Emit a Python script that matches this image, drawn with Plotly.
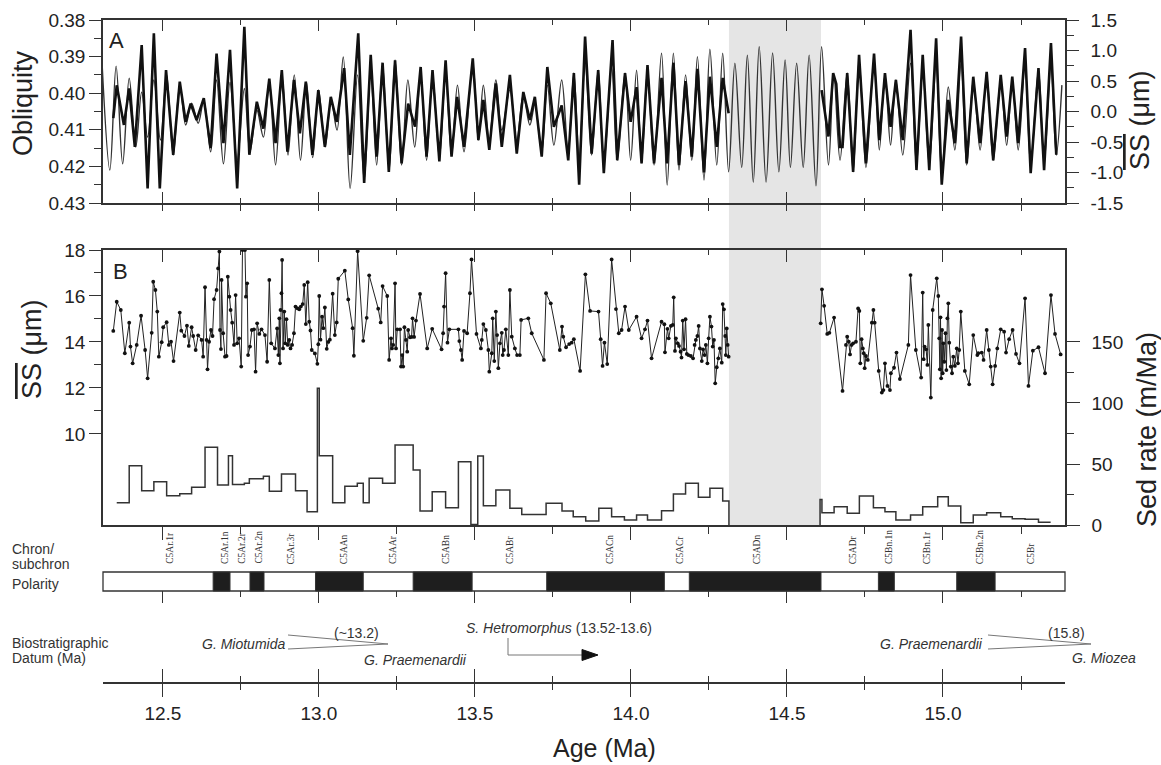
import plotly.graph_objects as go

# ---------------- DATA ----------------
# Panel A: orbital obliquity (thin line, left axis, reversed)
obl_age = [12.305, 12.330, 12.350, 12.371, 12.392, 12.413, 12.432, 12.451, 12.471, 12.492, 12.512, 12.533,
           12.554, 12.573, 12.592, 12.613, 12.631, 12.653, 12.672, 12.694, 12.715, 12.738, 12.761, 12.779,
           12.801, 12.822, 12.841, 12.861, 12.882, 12.901, 12.921, 12.941, 12.960, 12.980, 12.999, 13.020,
           13.039, 13.058, 13.078, 13.100, 13.124, 13.145, 13.166, 13.185, 13.204, 13.225, 13.244, 13.265,
           13.285, 13.307, 13.326, 13.345, 13.364, 13.386, 13.406, 13.425, 13.444, 13.465, 13.493, 13.511,
           13.527, 13.546, 13.567, 13.586, 13.612, 13.634, 13.655, 13.676, 13.692, 13.714, 13.732, 13.753,
           13.778, 13.799, 13.817, 13.834, 13.853, 13.874, 13.895, 13.913, 13.938, 13.956, 13.981, 13.999,
           14.018, 14.034, 14.053, 14.074, 14.098, 14.116, 14.136, 14.154, 14.175, 14.195, 14.213, 14.234,
           14.253, 14.275, 14.294, 14.313, 14.333, 14.355, 14.373, 14.392, 14.411, 14.433, 14.454, 14.474,
           14.494, 14.511, 14.531, 14.552, 14.571, 14.593, 14.611, 14.633, 14.650, 14.670, 14.693, 14.712,
           14.731, 14.753, 14.779, 14.796, 14.814, 14.832, 14.849, 14.871, 14.896, 14.915, 14.935, 14.956,
           14.978, 14.996, 15.017, 15.038, 15.058, 15.076, 15.097, 15.119, 15.140, 15.161, 15.185, 15.204,
           15.222, 15.241, 15.263, 15.281, 15.306, 15.324, 15.346, 15.363, 15.381]
obl_val = [0.3918, 0.4210, 0.3926, 0.4193, 0.3959, 0.4147, 0.3997, 0.4120, 0.3964, 0.4128, 0.3950, 0.4169,
           0.3978, 0.4087, 0.4027, 0.4082, 0.4019, 0.4160, 0.3964, 0.4193, 0.3970, 0.4183, 0.3987, 0.4160,
           0.4046, 0.4120, 0.3964, 0.4196, 0.3956, 0.4169, 0.3950, 0.4183, 0.3970, 0.4176, 0.3991, 0.4147,
           0.4019, 0.4101, 0.3901, 0.4260, 0.3950, 0.4237, 0.3950, 0.4196, 0.3923, 0.4210, 0.3909, 0.4196,
           0.3964, 0.4147, 0.3950, 0.4183, 0.3950, 0.4176, 0.3950, 0.4169, 0.3978, 0.4160, 0.3918, 0.4128,
           0.3978, 0.4128, 0.3964, 0.4101, 0.3991, 0.4128, 0.4005, 0.4087, 0.4032, 0.4160, 0.3978, 0.4142,
           0.3964, 0.4160, 0.3945, 0.4176, 0.3920, 0.4169, 0.3937, 0.4196, 0.3930, 0.4183, 0.3945, 0.4183,
           0.3937, 0.4190, 0.3937, 0.4196, 0.3891, 0.4251, 0.3891, 0.4210, 0.3950, 0.4183, 0.3900, 0.4237,
           0.3880, 0.4196, 0.3891, 0.4215, 0.3918, 0.4203, 0.3896, 0.4243, 0.3873, 0.4243, 0.3890, 0.4215,
           0.3909, 0.4203, 0.3918, 0.4203, 0.3896, 0.4253, 0.3873, 0.4196, 0.3950, 0.4183, 0.3945, 0.4215,
           0.3909, 0.4203, 0.3909, 0.4155, 0.3950, 0.4142, 0.3964, 0.4169, 0.3918, 0.4196, 0.3937, 0.4196,
           0.3923, 0.4223, 0.3983, 0.4155, 0.3918, 0.4196, 0.3964, 0.4155, 0.3950, 0.4183, 0.3964, 0.4142,
           0.3964, 0.4155, 0.3923, 0.4196, 0.3937, 0.4190, 0.3928, 0.4169, 0.3978]

# Panel A: filtered mean sortable silt (thick line, right axis)
ssf_age = [12.341, 12.352, 12.375, 12.392, 12.410, 12.432, 12.451, 12.471, 12.490, 12.510, 12.533, 12.554,
           12.573, 12.589, 12.608, 12.631, 12.653, 12.672, 12.694, 12.715, 12.738, 12.761, 12.777, 12.801,
           12.822, 12.841, 12.861, 12.881, 12.899, 12.920, 12.939, 12.958, 12.979, 12.998, 13.019, 13.038,
           13.057, 13.081, 13.099, 13.126, 13.145, 13.166, 13.185, 13.204, 13.224, 13.244, 13.265, 13.286,
           13.308, 13.326, 13.345, 13.364, 13.386, 13.406, 13.425, 13.443, 13.465, 13.493, 13.511, 13.527,
           13.546, 13.567, 13.586, 13.612, 13.634, 13.655, 13.676, 13.692, 13.714, 13.732, 13.753, 13.778,
           13.799, 13.817, 13.834, 13.853, 13.874, 13.895, 13.913, 13.941, 13.956, 13.981, 13.999, 14.018,
           14.034, 14.053, 14.074, 14.098, 14.116, 14.136, 14.154, 14.175, 14.195, 14.213, 14.234, 14.253,
           14.275, 14.294, 14.313, None,
           14.611, 14.633, 14.648, 14.658, 14.670, 14.678, 14.693, 14.712, 14.731, 14.753, 14.779, 14.796,
           14.814, 14.832, 14.849, 14.871, 14.896, 14.915, 14.935, 14.956, 14.978, 14.996, 15.017, 15.038,
           15.058, 15.076, 15.097, 15.119, 15.140, 15.161, 15.185, 15.204, 15.222, 15.241, 15.263, 15.281,
           15.306, 15.324, 15.346, 15.363]
ssf_val = [-0.11, 0.43, -0.22, 0.38, -0.58, 1.09, -1.26, 1.28, -1.26, 0.68, -0.71, 0.49,
           -0.17, 0.13, -0.14, 0.22, -0.60, 0.95, -0.52, 1.01, -1.26, 1.39, -0.71, 0.16,
           -0.28, 0.54, -0.52, 0.68, -0.66, 0.52, -0.36, 0.49, -0.71, 0.35, -0.58, 0.24,
           -0.17, 0.71, -0.71, 1.28, -1.17, 0.93, -0.74, 0.80, -0.99, 0.84, -0.85, 0.13,
           -0.25, 0.73, -0.74, 0.68, -0.82, 0.84, -0.74, 0.24, -0.58, 0.87, -0.47, 0.19,
           -0.63, 0.46, -0.58, 0.60, -0.69, 0.32, -0.14, 0.24, -0.74, 0.73, -0.25, 0.10,
           -0.80, 0.63, -1.20, 1.23, -0.69, 0.68, -1.01, 1.17, -0.80, 0.63, -0.17, 0.40,
           -0.85, 0.76, -0.85, 0.55, -0.85, 0.80, -0.88, 0.50, -0.74, 0.70, -1.00, 0.57,
           -0.58, 0.55, -0.03, None,
           0.35, -0.41, 0.63, 0.45, -0.58, -0.58, 0.63, -0.99, 0.93, -0.85, 0.95, -0.47,
           0.63, -0.25, 0.52, -0.47, 1.34, -0.96, 0.93, -0.96, 1.20, -1.20, 0.19, -0.52,
           1.23, -0.85, 0.57, -0.52, 0.65, -0.80, 0.60, -0.41, 0.57, -0.52, 1.04, -1.01,
           0.71, -0.96, 1.12, -0.71]

# Panel B: mean sortable silt (um, left axis)
ss_age = [12.341, 12.352, 12.365, 12.378, 12.392, 12.396, 12.403, 12.416, 12.430, 12.443, 12.451, 12.464,
          12.469, 12.476, 12.482, 12.487, 12.496, 12.501, 12.512, 12.519, 12.526, 12.534, 12.554, 12.559,
          12.569, 12.577, 12.583, 12.592, 12.597, 12.605, 12.613, 12.624, 12.629, 12.635, 12.640, 12.643,
          12.648, 12.654, 12.659, 12.664, 12.672, 12.677, 12.681, 12.683, 12.686, 12.688, 12.693, 12.699,
          12.704, 12.708, 12.713, 12.717, 12.722, 12.728, 12.733, 12.738, 12.744, 12.751, 12.755, 12.763,
          12.766, 12.770, 12.773, 12.779, 12.785, 12.792, 12.797, 12.802, 12.809, 12.816, 12.827, 12.834,
          12.841, 12.847, 12.859, 12.866, 12.870, 12.873, 12.875, 12.877, 12.880, 12.882, 12.885, 12.889,
          12.892, 12.896, 12.900, 12.905, 12.909, 12.914, 12.920, 12.925, 12.932, 12.937, 12.942, 12.948,
          12.953, 12.958, 12.964, 12.969, 12.973, 12.977, 12.987, 12.995, 12.998, 13.001, 13.005, 13.010,
          13.014, 13.019, 13.025, 13.030, 13.035, 13.044, 13.051, 13.057, 13.062, 13.083, 13.094, 13.108,
          13.112, 13.124, 13.142, 13.153, 13.161, 13.190, 13.198, 13.204, 13.219, 13.225, 13.231, 13.234,
          13.238, 13.244, 13.247, 13.251, 13.260, 13.263, 13.267, 13.270, 13.274, 13.279, 13.283, 13.286,
          13.292, 13.297, 13.300, 13.305, 13.311, 13.324, 13.347, 13.363, 13.393, 13.398, 13.401, 13.406,
          13.412, 13.418, 13.447, 13.450, 13.455, 13.459, 13.465, 13.475, 13.484, 13.489, 13.505, 13.519,
          13.522, 13.527, 13.535, 13.543, 13.546, 13.554, 13.557, 13.562, 13.567, 13.571, 13.575, 13.580,
          13.586, 13.589, 13.593, 13.599, 13.607, 13.612, 13.618, 13.628, 13.635, 13.644, 13.648, 13.671,
          13.682, 13.721, 13.728, 13.743, 13.772, 13.779, 13.783, 13.792, 13.802, 13.810, 13.817, 13.837,
          13.854, 13.869, 13.896, 13.903, 13.909, 13.915, 13.924, 13.938, 13.952, 13.961, 13.970, 13.981,
          13.993, 14.018, 14.034, 14.045, 14.053, 14.066, 14.098, 14.107, 14.109, 14.117, 14.121, 14.128,
          14.134, 14.137, 14.141, 14.144, 14.150, 14.154, 14.159, 14.162, 14.166, 14.170, 14.175, 14.179,
          14.184, 14.192, 14.199, 14.204, 14.208, 14.213, 14.217, 14.221, 14.227, 14.231, 14.236, 14.240,
          14.245, 14.249, 14.253, 14.258, 14.262, 14.266, 14.270, 14.275, 14.280, 14.285, 14.291, 14.294,
          14.298, 14.302, 14.304, 14.307, 14.310, 14.313, None,
          14.608, 14.612, 14.619, 14.629, 14.636, 14.651, 14.678, 14.689, 14.693, 14.698, 14.702, 14.707,
          14.712, 14.721, 14.728, 14.732, 14.735, 14.739, 14.743, 14.746, 14.749, 14.753, 14.759, 14.772,
          14.777, 14.781, 14.794, 14.804, 14.809, 14.814, 14.822, 14.830, 14.833, 14.843, 14.851, 14.862,
          14.889, 14.896, 14.913, 14.930, 14.935, 14.938, 14.941, 14.946, 14.950, 14.953, 14.961, 14.967,
          14.980, 14.985, 14.988, 14.990, 14.992, 14.994, 14.997, 14.999, 15.001, 15.004, 15.008, 15.011,
          15.014, 15.017, 15.020, 15.025, 15.029, 15.033, 15.038, 15.044, 15.048, 15.052, 15.057, 15.070,
          15.084, 15.097, 15.110, 15.113, 15.124, 15.130, 15.140, 15.147, 15.153, 15.159, 15.167, 15.174,
          15.185, 15.196, 15.202, 15.212, 15.223, 15.234, 15.245, 15.263, 15.274, 15.288, 15.306, 15.327,
          15.346, 15.359, 15.377]
ss_val = [14.48, 15.75, 15.39, 13.51, 14.84, 13.80, 13.07, 13.87, 15.14, 13.65, 12.42, 14.40,
          16.62, 16.26, 15.32, 13.36, 13.99, 14.64, 14.86, 13.87, 14.01, 13.17, 15.28, 14.49,
          14.26, 14.71, 13.83, 14.64, 14.26, 13.65, 14.29, 14.09, 13.36, 16.38, 14.09, 12.81,
          14.01, 14.52, 14.26, 15.86, 16.26, 17.20, 17.93, 14.52, 13.69, 16.70, 14.38, 13.36,
          13.39, 16.84, 15.97, 15.39, 14.84, 13.87, 16.04, 13.94, 14.16, 12.93, 18.00, 18.00,
          15.97, 16.55, 13.43, 13.80, 14.52, 14.55, 12.71, 14.81, 14.35, 14.55, 14.30, 13.14,
          16.70, 13.94, 13.72, 14.59, 13.43, 15.03, 13.07, 15.39, 16.12, 17.57, 13.72, 15.32,
          13.94, 14.99, 13.87, 14.09, 13.72, 13.87, 14.38, 15.54, 15.46, 15.42, 15.54, 15.65,
          16.48, 14.78, 16.60, 14.88, 14.50, 13.65, 13.50, 13.05, 13.90, 16.00, 14.10, 15.10,
          14.60, 15.50, 13.70, 14.00, 14.10, 16.10, 14.30, 14.85, 16.75, 17.10, 15.85, 14.60,
          13.40, 17.95, 14.05, 15.05, 16.90, 15.45, 14.85, 16.43, 16.00, 13.22, 14.16, 13.72,
          13.87, 16.55, 13.72, 14.55, 14.55, 12.93, 13.43, 12.93, 14.64, 14.09, 13.58, 14.52,
          14.20, 14.22, 15.03, 14.22, 14.93, 16.09, 13.72, 14.57, 13.68, 14.38, 15.54, 16.99,
          13.97, 14.55, 14.55, 14.04, 13.65, 13.22, 14.48, 14.38, 16.12, 17.59, 14.35, 13.72,
          14.09, 14.78, 14.52, 13.65, 12.71, 13.51, 15.03, 13.17, 15.32, 14.30, 12.86, 13.94,
          14.40, 13.43, 13.65, 14.55, 13.43, 16.26, 14.23, 13.72, 13.43, 13.43, 14.96, 15.03,
          14.38, 13.22, 16.12, 15.68, 13.65, 14.67, 14.23, 13.77, 13.91, 13.97, 14.12, 12.74,
          16.94, 15.35, 15.32, 14.12, 12.96, 13.97, 13.04, 17.59, 15.43, 14.38, 14.52, 15.54,
          14.52, 15.10, 14.16, 14.55, 14.93, 13.29, 14.88, 14.77, 13.55, 14.57, 14.16, 14.70,
          14.74, 15.94, 13.61, 14.16, 13.94, 13.83, 13.58, 13.32, 14.93, 13.68, 14.99, 13.48,
          13.43, 13.39, 13.29, 13.87, 14.09, 14.26, 14.70, 13.72, 13.17, 13.68, 13.43, 13.87,
          13.07, 14.16, 15.10, 14.67, 13.80, 14.09, 12.20, 12.90, 13.29, 13.72, 13.10, 15.65,
          15.42, 14.26, 13.43, 14.59, 13.87, 13.36, None,
          14.81, 16.29, 15.57, 14.35, 14.40, 15.06, 11.87, 13.87, 14.23, 14.01, 13.46, 13.87,
          13.94, 14.01, 15.46, 15.35, 13.07, 14.12, 13.72, 13.51, 12.86, 13.39, 13.22, 14.84,
          15.39, 14.84, 12.74, 11.80, 11.91, 13.07, 12.09, 11.91, 12.64, 12.88, 13.54, 12.39,
          13.87, 16.91, 13.65, 12.45, 16.15, 13.25, 13.80, 13.68, 13.00, 14.74, 11.58, 15.39,
          16.77, 16.00, 14.16, 12.81, 15.07, 12.42, 14.52, 12.64, 13.94, 13.14, 14.38, 12.78,
          15.03, 15.68, 13.97, 12.93, 12.64, 13.36, 12.96, 13.72, 13.07, 13.65, 15.32, 12.74,
          12.16, 14.30, 13.43, 13.51, 13.54, 13.22, 14.52, 13.65, 12.93, 12.16, 12.96, 13.72,
          14.55, 14.45, 13.54, 14.12, 14.52, 13.48, 13.07, 15.90, 12.09, 13.62, 13.77, 12.64,
          16.04, 14.35, 13.46]

# Panel B: sedimentation rate (m/Ma, right axis), step starts
sr_age = [12.352, 12.392, 12.432, 12.471, 12.512, 12.554, 12.592, 12.635, 12.675, 12.710, 12.723, 12.761,
          12.777, 12.822, 12.841, 12.880, 12.925, 12.962, 12.995, 13.001, 13.044, 13.083, 13.123, 13.142,
          13.161, 13.204, 13.244, 13.302, 13.324, 13.363, 13.406, 13.447, 13.487, 13.509, 13.527, 13.567,
          13.612, 13.650, 13.728, 13.779, 13.815, 13.855, 13.897, 13.938, 13.979, 14.018, 14.053, 14.098,
          14.136, 14.175, 14.216, 14.253, 14.294, 14.314, None,
          14.606, 14.606, 14.612, 14.651, 14.693, 14.732, 14.777, 14.814, 14.849, 14.896, 14.935, 14.983,
          15.017, 15.057, 15.097, 15.140, 15.185, 15.222, 15.263, 15.306, 15.345]
sr_val = [18.3, 48.6, 28.1, 35.5, 24.0, 25.7, 30.9, 63.7, 32.8, 56.8, 33.1, 34.2,
          38.0, 39.9, 27.6, 41.8, 28.1, 10.9, 112.0, 56.8, 18.3, 31.7, 34.2, 18.3,
          38.3, 34.2, 65.6, 45.1, 11.5, 27.3, 14.2, 51.9, 0.5, 56.6, 15.8, 28.7,
          13.7, 8.7, 17.8, 11.5, 6.8, 3.3, 13.7, 6.8, 4.1, 8.2, 4.1, 11.7,
          25.4, 34.2, 22.7, 30.1, 19.7, 0.0, None,
          0.0, 21.0, 10.1, 15.0, 9.6, 23.8, 14.2, 10.9, 4.1, 8.2, 15.0, 23.2,
          15.6, 1.9, 8.2, 10.1, 6.8, 5.2, 4.7, 2.2, 2.2]

# Data gap (shaded)
gap_start, gap_end = 14.314, 14.609

# Magnetic polarity: normal (black) intervals
normal_start = [12.661, 12.779, 12.989, 13.302, 13.730, 14.187, 14.793, 15.044]
normal_end = [12.715, 12.824, 13.142, 13.491, 14.107, 14.609, 14.844, 15.167]

chron_names = ["C5Ar.1r", "C5Ar.1n", "C5Ar.2r", "C5Ar.2n", "C5Ar.3r", "C5AAn", "C5AAr", "C5ABn",
               "C5ABr", "C5ACn", "C5ACr", "C5ADn", "C5ADr", "C5Bn.1n", "C5Bn.1r", "C5Bn.2n", "C5Br"]
chron_age = [12.522, 12.697, 12.753, 12.805, 12.912, 13.081, 13.236, 13.406,
             13.612, 13.931, 14.157, 14.405, 14.711, 14.827, 14.948, 15.119, 15.281]

obl_ticks = [0.38, 0.39, 0.40, 0.41, 0.42, 0.43]
ssA_ticks = [-1.5, -1.0, -0.5, 0.0, 0.5, 1.0, 1.5]
ssA_text = ["-1.5", "-1.0", "-0.5", "0.0", "0.5", "1.0", "1.5"]
ssB_ticks = [10, 12, 14, 16, 18]
sr_ticks = [0, 50, 100, 150]
age_ticks = [12.5, 13.0, 13.5, 14.0, 14.5, 15.0]

# ---------------- STYLE / LAYOUT ----------------
W, H = 1161, 765
L, R = 103, 96
PW = W - L - R
FONT = "Liberation Sans, Arial, sans-serif"
LC = "#333333"
XR = [12.308, 15.391]


def px(x):
    return (x - L) / PW


def py(y):
    return 1 - y / H


fig = go.Figure()
fig.add_trace(go.Scatter(x=obl_age, y=obl_val, xaxis="x", yaxis="y", mode="lines",
                         line=dict(color="#333333", width=1.4, shape="spline", smoothing=1.0),
                         hoverinfo="skip"))
fig.add_trace(go.Scatter(x=ssf_age, y=ssf_val, xaxis="x", yaxis="y3", mode="lines",
                         line=dict(color="#111111", width=2.6), connectgaps=False, hoverinfo="skip"))
fig.add_trace(go.Scatter(x=ss_age, y=ss_val, xaxis="x2", yaxis="y2", mode="lines+markers",
                         line=dict(color="#222222", width=1), marker=dict(size=3.8, color="#111111"),
                         connectgaps=False, hoverinfo="skip"))
fig.add_trace(go.Scatter(x=sr_age, y=sr_val, xaxis="x2", yaxis="y4", mode="lines",
                         line=dict(color="#333333", width=1.5, shape="hv"), connectgaps=False,
                         hoverinfo="skip"))
for xa, ya in [("x3", "y5"), ("x4", "y5"), ("x5", "y5"), ("x6", "y2"), ("x7", "y")]:
    fig.add_trace(go.Scatter(x=[None], y=[None], xaxis=xa, yaxis=ya, showlegend=False,
                             hoverinfo="skip"))

tickfont = dict(family=FONT, size=19, color="#222222")
base_x = dict(range=XR, showgrid=False, zeroline=False, tickcolor=LC, tickwidth=1.3,
              tick0=12.5, dtick=0.5, showticklabels=False, automargin=False)

dA = [py(203), py(20)]
dB = [py(525), py(250)]

fig.update_layout(
    width=W, height=H, autosize=False,
    margin=dict(l=L, r=R, t=0, b=0, pad=0),
    paper_bgcolor="white", plot_bgcolor="rgba(0,0,0,0)",
    showlegend=False,
    font=dict(family=FONT, color="#222222"),
    xaxis=dict(base_x, domain=[0, 1], anchor="y", showline=True, linecolor=LC, linewidth=1.5,
               mirror="ticks", ticks="inside", ticklen=11,
               minor=dict(dtick=0.25, ticks="inside", ticklen=5, tickcolor=LC, tickwidth=1.3)),
    xaxis7=dict(base_x, overlaying="x", anchor="y", side="bottom", showline=False,
                ticks="outside", ticklen=7,
                minor=dict(dtick=0.25, ticks="outside", ticklen=7, tickcolor=LC, tickwidth=1.3)),
    xaxis2=dict(base_x, domain=[0, 1], anchor="y2", showline=True, linecolor=LC, linewidth=1.5,
                mirror=True, ticks="outside", ticklen=13,
                minor=dict(dtick=0.25, ticks="outside", ticklen=7, tickcolor=LC, tickwidth=1.3)),
    xaxis6=dict(base_x, overlaying="x2", anchor="y2", side="top", showline=False,
                ticks="inside", ticklen=12,
                minor=dict(dtick=0.25, ticks="inside", ticklen=5, tickcolor=LC, tickwidth=1.3)),
    xaxis3=dict(base_x, domain=[0, 1], anchor="y5", side="bottom", showline=True, linecolor=LC,
                linewidth=1.5, ticks="outside", ticklen=13, showticklabels=True,
                tickmode="array", tickvals=age_ticks, ticktext=[f"{v:.1f}" for v in age_ticks],
                tickfont=tickfont,
                minor=dict(dtick=0.25, tick0=12.5, ticks="outside", ticklen=6, tickcolor=LC,
                           tickwidth=1.3)),
    xaxis5=dict(base_x, overlaying="x3", anchor="y5", side="bottom", showline=False,
                ticks="inside", ticklen=13,
                minor=dict(dtick=0.25, ticks="inside", ticklen=6, tickcolor=LC, tickwidth=1.3)),
    xaxis4=dict(base_x, overlaying="x3", anchor="y5", side="top", showline=False,
                ticks="inside", ticklen=12,
                minor=dict(dtick=0.25, ticks="inside", ticklen=6, tickcolor=LC, tickwidth=1.3)),
    yaxis=dict(domain=dA, anchor="x", range=[0.43, 0.38], showgrid=False, zeroline=False,
               showline=True, linecolor=LC, linewidth=1.5, ticks="outside", ticklen=12,
               tickcolor=LC, tickwidth=1.3, tickmode="array", tickvals=obl_ticks,
               ticktext=[f"{v:.2f}" for v in obl_ticks], tickfont=tickfont, automargin=False,
               minor=dict(dtick=0.005, tick0=0.38, ticks="outside", ticklen=7, tickcolor=LC,
                          tickwidth=1.3)),
    yaxis3=dict(overlaying="y", anchor="x", side="right", range=[-1.5, 1.5], showgrid=False,
                zeroline=False, showline=True, linecolor=LC, linewidth=1.5, ticks="outside",
                ticklen=12, tickcolor=LC, tickwidth=1.3, tickmode="array", tickvals=ssA_ticks,
                ticktext=ssA_text, tickfont=tickfont, ticklabelstandoff=8, automargin=False,
                minor=dict(dtick=0.25, tick0=-1.5, ticks="outside", ticklen=7, tickcolor=LC,
                           tickwidth=1.3)),
    yaxis2=dict(domain=dB, anchor="x2", range=[6.04, 18.0], showgrid=False, zeroline=False,
                showline=True, linecolor=LC, linewidth=1.5, ticks="outside", ticklen=12,
                tickcolor=LC, tickwidth=1.3, tickmode="array", tickvals=ssB_ticks,
                ticktext=[str(v) for v in ssB_ticks], tickfont=tickfont, automargin=False,
                minor=dict(tickmode="array", tickvals=[11, 13, 15, 17], ticks="outside",
                           ticklen=7, tickcolor=LC, tickwidth=1.3)),
    yaxis4=dict(overlaying="y2", anchor="x2", side="right", range=[0, 225.4], showgrid=False,
                zeroline=False, showline=True, linecolor=LC, linewidth=1.5, ticks="outside",
                ticklen=13, tickcolor=LC, tickwidth=1.3, tickmode="array", tickvals=sr_ticks,
                ticktext=[str(v) for v in sr_ticks], tickfont=tickfont, ticklabelstandoff=8,
                automargin=False,
                minor=dict(tickmode="array", tickvals=[25, 75, 125], ticks="outside", ticklen=7,
                           tickcolor=LC, tickwidth=1.3)),
    yaxis5=dict(domain=[py(682), py(591)], anchor="x3", range=[0, 1], visible=False),
)

shapes = []
# shaded data gap spanning both panels
shapes.append(dict(type="rect", xref="x", yref="paper", x0=gap_start, x1=gap_end,
                   y0=py(525), y1=py(20), fillcolor="#e5e5e5", line=dict(width=0), layer="below"))
# polarity bar
pb0, pb1 = py(591), py(572)
shapes.append(dict(type="rect", xref="paper", yref="paper", x0=0, x1=1, y0=pb0, y1=pb1,
                   fillcolor="white", line=dict(color=LC, width=1.3)))
for s, e in zip(normal_start, normal_end):
    shapes.append(dict(type="rect", xref="x3", yref="paper", x0=s, x1=e, y0=pb0, y1=pb1,
                       fillcolor="#1e1e1e", line=dict(color=LC, width=1)))
# biostratigraphic wedges and arrow (decoration)
GL = dict(color="#777777", width=1)
shapes += [
    dict(type="line", xref="paper", yref="paper", x0=px(288), y0=py(635), x1=px(388), y1=py(644), line=GL),
    dict(type="line", xref="paper", yref="paper", x0=px(288), y0=py(649), x1=px(388), y1=py(644), line=GL),
    dict(type="line", xref="paper", yref="paper", x0=px(988), y0=py(635), x1=px(1091), y1=py(644), line=GL),
    dict(type="line", xref="paper", yref="paper", x0=px(988), y0=py(649), x1=px(1091), y1=py(644), line=GL),
    dict(type="line", xref="paper", yref="paper", x0=px(508), y0=py(638), x1=px(508), y1=py(655), line=GL),
    dict(type="line", xref="paper", yref="paper", x0=px(508), y0=py(655), x1=px(585), y1=py(655), line=GL),
    dict(type="path", xref="paper", yref="paper",
         path=f"M {px(598)},{py(655)} L {px(582)},{py(649.5)} L {px(582)},{py(660.5)} Z",
         fillcolor="#111111", line=dict(color="#111111", width=1)),
]
fig.update_layout(shapes=shapes)

ann = []
OV = '<span style="text-decoration:overline">SS</span>'
TF = dict(family=FONT, size=27, color="#222222")
C = dict(xref="paper", yref="paper", showarrow=False, xanchor="center", yanchor="middle")
ann.append(dict(C, text="Obliquity", x=px(23), y=py(103), textangle=-90, font=TF))
ann.append(dict(C, text=OV + " (μm)", x=px(32), y=py(349), textangle=-90, font=TF))
ann.append(dict(C, text=OV + " (μm)", x=px(1140), y=py(120), textangle=-90, font=TF))
ann.append(dict(C, text="Sed rate (m/Ma)", x=px(1147), y=py(430), textangle=-90, font=TF))
ann.append(dict(C, text="Age (Ma)", x=px(604), y=py(748),
                font=dict(family=FONT, size=25, color="#222222")))
ann.append(dict(C, text="A", x=px(116), y=py(40), font=dict(family=FONT, size=22, color="#222222")))
ann.append(dict(C, text="B", x=px(120), y=py(271), font=dict(family=FONT, size=22, color="#222222")))
SF = dict(family=FONT, size=14, color="#333333")
for t, yy in [("Chron/", 549), ("subchron", 564), ("Polarity", 584), ("Biostratigraphic", 643),
              ("Datum (Ma)", 658)]:
    ann.append(dict(C, text=t, x=px(10), y=py(yy), xanchor="left", font=SF))
for name, a in zip(chron_names, chron_age):
    ann.append(dict(text=name, xref="x3", yref="paper", x=a, y=py(566), xanchor="center",
                    yanchor="bottom", textangle=-90, showarrow=False,
                    font=dict(family="Liberation Serif, Times New Roman, serif", size=9.5,
                              color="#333333")))
IF = dict(family=FONT, size=14, color="#333333")
ann += [
    dict(C, text="<i>G. Miotumida</i>", x=px(287), y=py(644), xanchor="right", font=IF),
    dict(C, text="(~13.2)", x=px(356), y=py(633), font=IF),
    dict(C, text="<i>G. Praemenardii</i>", x=px(362), y=py(660), xanchor="left", font=IF),
    dict(C, text="<i>S. Hetromorphus</i> (13.52-13.6)", x=px(559), y=py(628), font=IF),
    dict(C, text="<i>G. Praemenardii</i>", x=px(985), y=py(644), xanchor="right", font=IF),
    dict(C, text="(15.8)", x=px(1066), y=py(633), font=IF),
    dict(C, text="<i>G. Miozea</i>", x=px(1104), y=py(658), font=IF),
]
fig.update_layout(annotations=ann)

fig.write_html("out.html", config={"displayModeBar": False},
               post_script="document.body.style.margin='0px';document.body.style.overflow='hidden';")
